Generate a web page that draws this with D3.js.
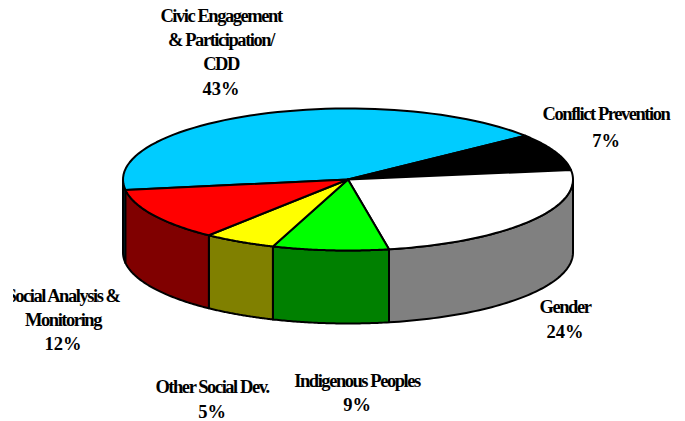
<!DOCTYPE html>
<html><head><meta charset="utf-8">
<script src="https://cdn.jsdelivr.net/npm/d3@7"></script>
<style>html,body{margin:0;padding:0;background:#fff}svg{display:block}
text{font-family:"Liberation Serif",serif;font-weight:bold;font-size:18.5px;fill:#000;text-anchor:middle}</style>
</head><body><div id="chart"></div>
<script>
const categories=["Civic Engagement & Participation/ CDD","Conflict Prevention","Gender","Indigenous Peoples","Other Social Dev.","Social Analysis & Monitoring"];
const values=[43,7,24,9,5,12];
const topColors=["#00CCFF","#000000","#FFFFFF","#00FF00","#FFFF00","#FF0000"];
const sideColors=["#006680","#000000","#808080","#008000","#808000","#800000"];
const labelLines=[["Civic Engagement","& Participation/","CDD"],["Conflict Prevention"],["Gender"],["Indigenous Peoples"],["Other Social Dev."],["Social Analysis &","Monitoring"]];
const percentLabels=["43%","7%","24%","9%","5%","12%"];
const labelX=[221,606,565,357,212,63];
const labelY=[21.5,119.5,313,387,392.5,301.5];
const percentY=[95,146.5,338,410.5,418,350];

const W=685,H=421,TAU=Math.PI*2,rad=d=>d*Math.PI/180;
const svg=d3.select("#chart").append("svg").attr("width",W).attr("height",H);
svg.append("defs").append("clipPath").attr("id","page").append("rect").attr("x",13).attr("y",0).attr("width",W-13).attr("height",H);
const x=d3.scaleLinear().domain([-1,1]).range([123,573]);
const y=d3.scaleLinear().domain([-1,1]).range([108.5,250.5]);
const depth=73;
// The original 3-D projection foreshortens angles slightly: true angle -> drawn angle, in degrees
const warpScale=d3.scaleLinear().domain([0,56.8,82,168.4,200.8,218.8,262,360]).range([0,52,82.3,169.5,199.5,218.2,261.5,360]);
const warp=a=>{const t=a/rad(1),m=((t%360)+360)%360,turns=Math.round((t-m)/360);return rad(warpScale(m)+turns*360);};
const pt=(a,dz=0)=>[x(Math.sin(a)),y(-Math.cos(a))+dz];
const pie=d3.pie().sort(null).startAngle(rad(262)).endAngle(rad(262)+TAU);
const arcs=pie(values);
const span=d=>{const a0=warp(d.startAngle);let a1=warp(d.endAngle);while(a1<=a0)a1+=TAU;return [a0,a1];};
const samples=(a0,a1)=>d3.range(0,61).map(i=>a0+(a1-a0)*i/60);
const line=d3.line().curve(d3.curveLinear);
const g=svg.append("g").attr("stroke","#000").attr("stroke-width",2).attr("stroke-linejoin","round");

// Side walls: the visible lower half, angles 90..270 degrees
arcs.forEach((d,i)=>{
  const [s0,s1]=span(d);
  [[rad(90),rad(270)],[rad(450),rad(630)]].forEach(([lo,hi])=>{
    const a0=Math.max(s0,lo),a1=Math.min(s1,hi);
    if(a1<=a0)return;
    const s=samples(a0,a1);
    const p=s.map(a=>pt(a)).concat(s.slice().reverse().map(a=>pt(a,depth)));
    g.append("path").attr("d",line(p)+"Z").attr("fill",sideColors[i]);
  });
});
// Top faces
const cx=x(0),cy=y(0);
arcs.forEach((d,i)=>{
  const [a0,a1]=span(d);
  const p=[[cx,cy]].concat(samples(a0,a1).map(a=>pt(a)));
  g.append("path").attr("d",line(p)+"Z").attr("fill",topColors[i]);
});
// Labels
const lab=svg.append("g").attr("clip-path","url(#page)");
categories.forEach((c,i)=>{
  labelLines[i].forEach((t,j)=>{
    lab.append("text").attr("x",labelX[i]).attr("y",labelY[i]+j*24).attr("letter-spacing","-1.45px").text(t);
  });
  lab.append("text").attr("x",labelX[i]).attr("y",percentY[i]).text(percentLabels[i]);
});
</script></body></html>
